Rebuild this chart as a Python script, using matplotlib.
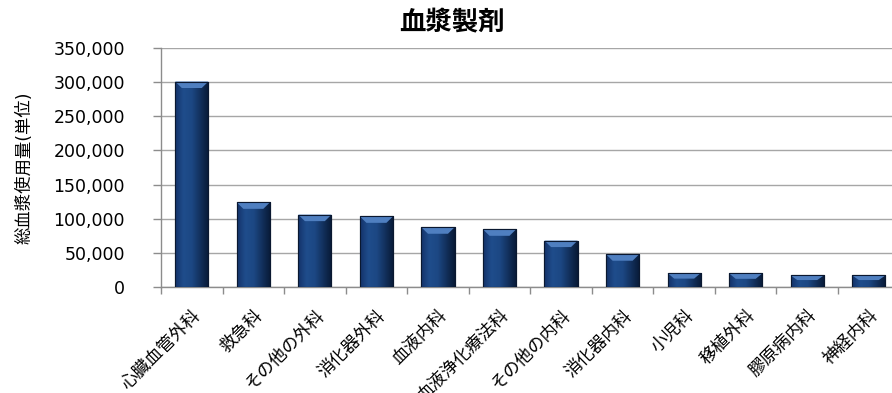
import matplotlib
matplotlib.use("Agg")
import matplotlib.pyplot as plt
import numpy as np
from matplotlib.colors import LinearSegmentedColormap
from matplotlib.patches import Polygon
from matplotlib.ticker import FuncFormatter, MultipleLocator

plt.rcParams['font.family'] = ['DejaVu Sans', 'Noto Sans CJK JP']

departments = ['心臓血管外科', '救急科', 'その他の外科', '消化器外科', '血液内科',
               '血液浄化療法科', 'その他の内科', '消化器内科', '小児科', '移植外科',
               '膠原病内科', '神経内科']
usage = [301000, 124000, 106000, 103500, 87500, 84500, 68000, 48000,
         20500, 20000, 17000, 17000]

fig = plt.figure(figsize=(8.92, 3.93), dpi=100)
ax = fig.add_axes([0.1805, 0.2697, 0.828, 0.608])

x = np.arange(len(departments))
width = 0.54
bars = ax.bar(x, usage, width=width, color='#18396c', edgecolor='#0a1830',
              linewidth=0.8, zorder=3)

# cylinder-like shading across each bar
body = LinearSegmentedColormap.from_list(
    'body', ['#14336a', '#1f4d8c', '#1c4783', '#12305c', '#081a36'])
grad = np.linspace(0, 1, 64).reshape(1, -1)
for b in bars:
    x0, w, h = b.get_x(), b.get_width(), b.get_height()
    im = ax.imshow(grad, cmap=body, aspect='auto', extent=(x0, x0 + w, 0, h),
                   zorder=3.1, interpolation='bicubic')
    im.set_clip_path(b)
    # lighter bevel on top
    bh = min(9500, 0.4 * h)
    inset = 0.2 * w
    top = Polygon([(x0, h), (x0 + w, h), (x0 + w - inset, h - bh), (x0 + inset, h - bh)],
                  closed=True, facecolor='#4f7fc0', edgecolor='none', zorder=3.2)
    ax.add_patch(top)
    ax.add_patch(Polygon([(x0, h), (x0 + w, h), (x0 + w, 0), (x0, 0)], closed=True,
                         fill=False, edgecolor='#0a1830', linewidth=0.8, zorder=3.3))

ax.set_xlim(-0.5, len(departments) - 0.5)
ax.set_ylim(0, 350000)
ax.yaxis.set_major_locator(MultipleLocator(50000))
ax.yaxis.set_major_formatter(FuncFormatter(lambda v, p: f'{int(v):,}'))
ax.grid(axis='y', color='#a6a6a6', linewidth=1.0, zorder=0)
ax.set_axisbelow(True)

ax.set_xticks(x)
ax.set_xticklabels(departments, rotation=45, ha='right', rotation_mode='anchor',
                   fontsize=12.5)
ax.tick_params(axis='x', which='major', length=0, pad=14)
ax.set_xticks(np.arange(-0.5, len(departments), 1), minor=True)
ax.tick_params(axis='x', which='minor', length=5, color='#8c8c8c', width=1)
ax.tick_params(axis='y', length=6, color='#8c8c8c', width=1, pad=20, labelsize=12.5)

for s in ['top', 'right']:
    ax.spines[s].set_visible(False)
for s in ['left', 'bottom']:
    ax.spines[s].set_color('#8c8c8c')
    ax.spines[s].set_linewidth(1)

ax.set_ylabel('総血漿使用量(単位)', fontsize=12.5)
ax.yaxis.set_label_coords(-0.172, 0.5)

fig.text(0.507, 0.94, '血漿製剤', ha='center', va='center', fontsize=19,
         fontweight='bold')

fig.savefig('out.png', dpi=100)
